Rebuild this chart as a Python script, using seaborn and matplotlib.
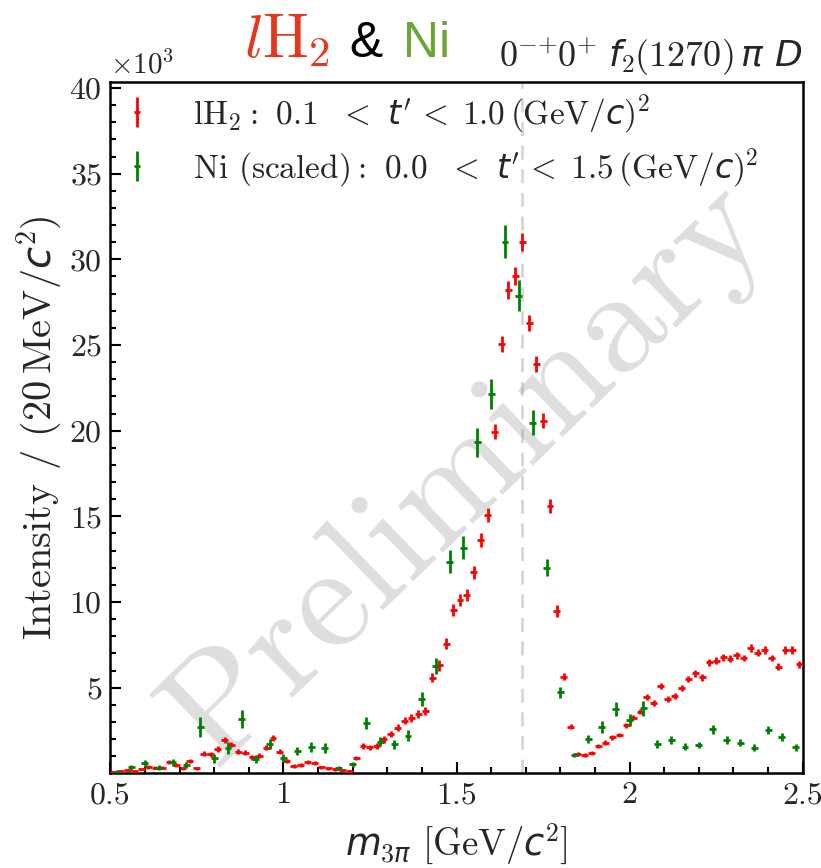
import numpy as np
import pandas as pd
import matplotlib
matplotlib.use("Agg")
import matplotlib.pyplot as plt
import seaborn as sns
from matplotlib.legend_handler import HandlerErrorbar
from matplotlib.ticker import MultipleLocator, FixedLocator

# lH2 sample: 20 MeV bins from 0.5 to 2.5 GeV, intensity in units of 10^3
lh2_mass = np.round(np.arange(0.51, 2.5, 0.02), 3)
lh2_int = [
    0.10, 0.14, 0.18, 0.14, 0.25, 0.37, 0.33, 0.33, 0.64, 0.48,
    0.29, 0.72, 0.29, 1.15, 1.11, 1.42, 1.94, 1.67, 1.27, 1.21,
    0.93, 1.03, 1.49, 2.08, 1.27, 0.74, 0.43, 0.48, 0.64, 0.58,
    0.35, 0.29, 0.23, 0.19, 0.14, 0.89, 1.59, 1.51, 1.59, 1.98,
    2.29, 2.66, 3.07, 3.21, 3.48, 3.64, 5.58, 6.30, 7.55, 9.53,
    10.12, 10.41, 11.73, 13.62, 15.08, 19.94, 25.06, 28.21, 29.03, 31.03,
    26.27, 23.88, 20.58, 15.59, 9.49, 5.64, 2.72, 1.13, 1.07, 1.17,
    1.59, 1.79, 2.10, 2.24, 2.80, 3.25, 3.60, 4.47, 4.09, 5.10,
    4.34, 4.52, 4.96, 5.49, 5.84, 5.60, 6.48, 6.57, 6.77, 6.69,
    6.89, 6.73, 7.31, 7.04, 7.20, 6.73, 6.23, 7.20, 7.20, 6.36,
]
lh2_err = [
    0.06, 0.07, 0.07, 0.07, 0.08, 0.09, 0.09, 0.09, 0.11, 0.10,
    0.09, 0.12, 0.09, 0.14, 0.14, 0.15, 0.17, 0.16, 0.14, 0.14,
    0.13, 0.13, 0.15, 0.18, 0.15, 0.12, 0.10, 0.10, 0.11, 0.11,
    0.09, 0.08, 0.08, 0.07, 0.06, 0.13, 0.17, 0.17, 0.17, 0.19,
    0.20, 0.21, 0.22, 0.23, 0.24, 0.24, 0.28, 0.30, 0.32, 0.35,
    0.36, 0.36, 0.38, 0.40, 0.42, 0.45, 0.48, 0.50, 0.50, 0.52,
    0.48, 0.46, 0.44, 0.40, 0.34, 0.22, 0.16, 0.11, 0.11, 0.11,
    0.12, 0.13, 0.13, 0.14, 0.15, 0.15, 0.16, 0.17, 0.17, 0.18,
    0.17, 0.17, 0.18, 0.19, 0.19, 0.19, 0.20, 0.20, 0.21, 0.20,
    0.21, 0.20, 0.21, 0.21, 0.21, 0.20, 0.20, 0.21, 0.21, 0.20,
]

# Ni sample (scaled): 40 MeV bins
ni_mass = np.round(np.arange(0.52, 2.5, 0.04), 3)
ni_int = [
    0.10, 0.35, 0.58, 0.33, 0.64, 0.48, 2.72, 0.87, 1.46, 3.17,
    0.83, 1.71, 0.89, 1.30, 1.55, 1.49, 0.33, 0.52, 2.92, 1.85,
    1.69, 2.20, 4.34, 6.26, 12.35, 13.17, 19.32, 22.13, 31.03, 27.88,
    20.47, 12.00, 4.73, 1.07, 2.00, 2.72, 3.75, 3.11, 3.79, 1.69,
    1.96, 1.55, 1.65, 2.57, 1.94, 1.79, 1.50, 2.53, 2.14, 1.52,
]
ni_err = [
    0.08, 0.15, 0.20, 0.15, 0.20, 0.18, 0.58, 0.25, 0.35, 0.50,
    0.22, 0.30, 0.22, 0.25, 0.30, 0.30, 0.10, 0.15, 0.35, 0.28,
    0.26, 0.30, 0.42, 0.45, 0.68, 0.68, 0.83, 0.88, 0.97, 0.90,
    0.73, 0.50, 0.32, 0.12, 0.26, 0.34, 0.42, 0.35, 0.42, 0.24,
    0.24, 0.20, 0.20, 0.25, 0.22, 0.20, 0.20, 0.25, 0.24, 0.20,
]

LT = r"\mathcal{<}"  # less-than sign taken from the CM math italic font
lh2_label = (r"$\mathrm{lH_2}:\ 0.1\ \;" + LT + r"\ t'\," + LT
             + r"\:1.0\,(\mathrm{GeV}/c)^2$")
ni_label = (r"$\mathrm{Ni\ (scaled)}:\ 0.0\ \;" + LT + r"\ t'\," + LT
            + r"\:1.5\,(\mathrm{GeV}/c)^2$")
wave_label = r"$0^{{-}{+}}0^{+}\ f_2(1270)\,\pi\ D$"
x_ticks = [0.5, 1.0, 1.5, 2.0, 2.5]
x_ticklabels = ["0.5", "1", "1.5", "2", "2.5"]
y_ticks = [5, 10, 15, 20, 25, 30, 35, 40]
peak_mass = 1.69

lh2 = pd.DataFrame({"mass": lh2_mass, "intensity": lh2_int, "err": lh2_err})
ni = pd.DataFrame({"mass": ni_mass, "intensity": ni_int, "err": ni_err})

sns.set_theme(style="ticks")
plt.rcParams.update({
    "font.family": "cmr10",
    "mathtext.fontset": "custom",
    "mathtext.rm": "cmr10",
    "mathtext.it": "DejaVu Sans:italic",
    "mathtext.bf": "cmr10",
    "mathtext.sf": "DejaVu Sans",
    "mathtext.cal": "cmmi10",
    "axes.formatter.use_mathtext": True,
    "axes.unicode_minus": False,
})

W, H = 821, 868
fig = plt.figure(figsize=(W / 100, H / 100), dpi=100)
ax = fig.add_axes([110.3 / W, 1 - 773.3 / H, 692.4 / W, (773.3 - 82) / H])

ax.text(0.517, 0.435, "Preliminary", transform=ax.transAxes, rotation=44,
        ha="center", va="center", fontsize=108, color="0.5", alpha=0.26,
        zorder=0)
ax.axvline(peak_mass, color="0.55", alpha=0.35, lw=2.0, ls=(0, (5, 3.5)),
           zorder=1)

eb_lh2 = ax.errorbar(lh2["mass"], lh2["intensity"], yerr=lh2["err"], xerr=0.01,
                     fmt="none", ecolor="#ff0000", elinewidth=2.0, capsize=0,
                     zorder=3, label=lh2_label)
eb_ni = ax.errorbar(ni["mass"], ni["intensity"], yerr=ni["err"], xerr=0.01,
                    fmt="none", ecolor="#008000", elinewidth=2.0, capsize=0,
                    zorder=4, label=ni_label)

ax.set_xlim(0.5, 2.5)
ax.set_ylim(0, 40.35)
ax.xaxis.set_major_locator(FixedLocator(x_ticks))
ax.set_xticklabels(x_ticklabels)
ax.xaxis.set_minor_locator(MultipleLocator(0.1))
ax.yaxis.set_major_locator(FixedLocator(y_ticks))
ax.yaxis.set_minor_locator(MultipleLocator(1))
ax.tick_params(which="both", direction="in", top=False, right=False,
               labelsize=23, color="black", width=1.5, pad=6)
ax.tick_params(which="major", length=8)
ax.tick_params(which="minor", length=4)
for s in ax.spines.values():
    s.set_color("black")
    s.set_linewidth(1.8)

ax.set_xlabel(r"$m_{3\pi}\ [\mathrm{GeV}/c^2]$", fontsize=26.5, labelpad=9)
ax.set_ylabel(r"Intensity / $(20\,\mathrm{MeV}/c^2)$", fontsize=29, labelpad=4)

leg = ax.legend(handles=[eb_lh2, eb_ni], loc="upper left",
                bbox_to_anchor=(0.0, 1.0 + 3 / 691), frameon=False, fontsize=24,
                handlelength=0.8, handletextpad=1.27, borderaxespad=0.0,
                borderpad=0.4, labelspacing=0.3,
                handler_map={type(eb_lh2): HandlerErrorbar(xerr_size=0.08,
                                                           yerr_size=0.45)})

fig.text(110 / W, 1 - 74 / H, r"$\times10^{3}$", fontsize=21, ha="left",
         va="baseline")
fig.text(803 / W, 1 - 67 / H, wave_label, fontsize=26, ha="right",
         va="baseline")

# headline built from pieces with different fonts and colours
pieces = [
    ("l", "#e5371d", "cmmi10", 44, 0),
    (r"$\mathrm{H}_2$", "#e5371d", "cmr10", 44, 6),
    (" &", "black", "Liberation Sans", 36, 6),
    (" Ni", "#6aa535", "Liberation Sans", 36, 0),
]
fig.canvas.draw()
renderer = fig.canvas.get_renderer()
xpos = 244.0
for txt, col, fam, size, gap in pieces:
    t = fig.text(xpos / W, 1 - 57 / H, txt, color=col, family=fam,
                 fontsize=size, ha="left", va="baseline")
    bb = t.get_window_extent(renderer=renderer)
    xpos += bb.width + gap

fig.savefig("out.png", dpi=100)
